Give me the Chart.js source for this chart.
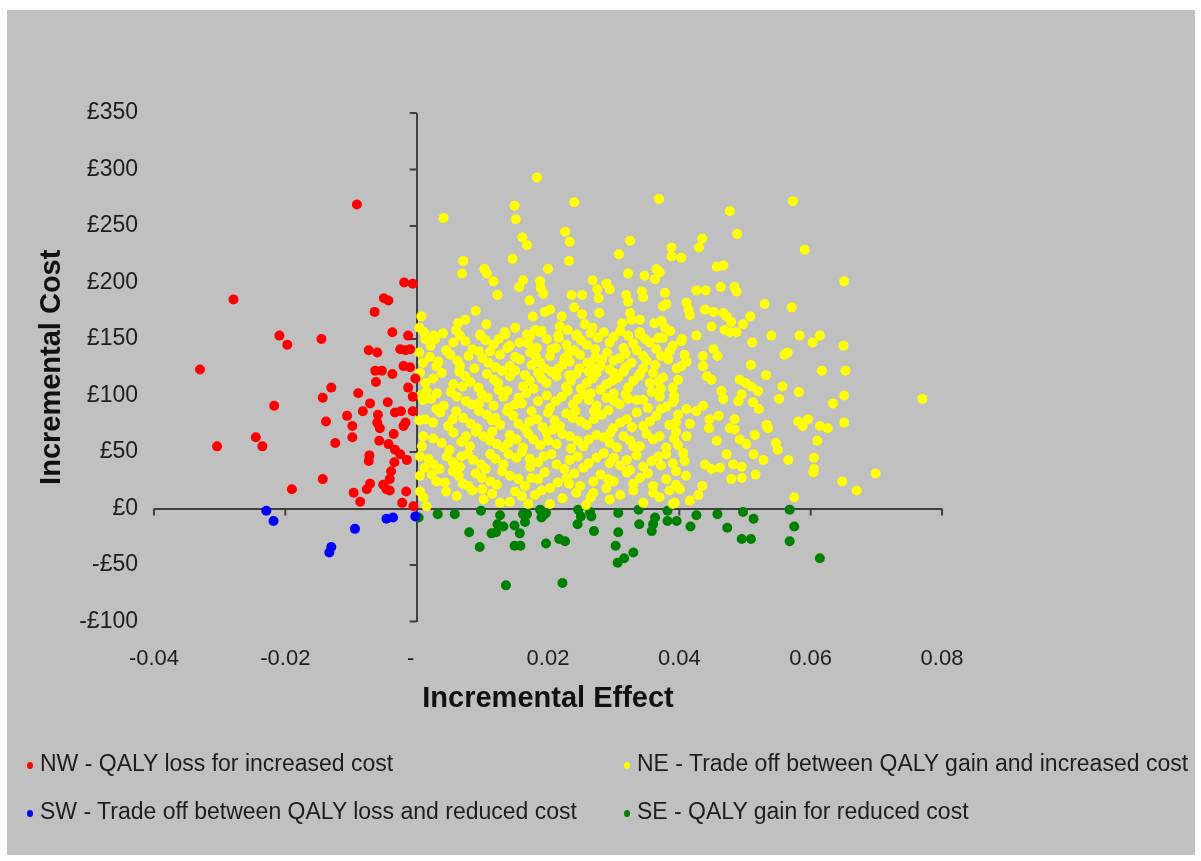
<!DOCTYPE html>
<html>
<head>
<meta charset="utf-8">
<script src="https://cdn.jsdelivr.net/npm/chart.js@4.4.1/dist/chart.umd.min.js"></script>
<style>
  html, body { margin: 0; padding: 0; background: #fff; }
  #frame { position: absolute; left: 7px; top: 10px; width: 1188px; height: 845px; background: #c0c0c0; }
  #wrap { position: absolute; left: 0; top: 0; width: 1201px; height: 861px; }
  #legend { position: absolute; left: 0; top: 0; font-family: "Liberation Sans", Arial, sans-serif; font-size: 23px; color: #1e1e1e; }
  .item { position: absolute; white-space: nowrap; line-height: 24px; }
  .dot { display: inline-block; width: 6px; height: 7px; border-radius: 50%; margin-right: 7px; vertical-align: 2px; }
</style>
</head>
<body>
<div id="frame"></div>
<div id="wrap"><canvas id="ceChart" width="1201" height="861"></canvas></div>
<div id="legend"></div>
<script>
// quadrant labels and colours
const seriesLabels = [
  'NW - QALY loss for increased cost',
  'NE - Trade off between QALY gain and increased cost',
  'SW - Trade off between QALY loss and reduced cost',
  'SE - QALY gain for reduced cost'
];
const seriesColors = ['#ff0000', '#ffff00', '#0000ff', '#008000'];

// axis ranges / ticks
const xMin = -0.04, xMax = 0.08, xStep = 0.02;
const yMin = -100, yMax = 350, yStep = 50;

// [incremental effect, incremental cost]
const nwPoints = [
  [-0.0091,269],[-0.0019,200],[-0.0006,199],[-0.0279,185],[-0.0050,186],[-0.0043,184],[-0.0064,174],
  [-0.0037,156],[-0.0013,153],[-0.0209,153],[-0.0197,145],[-0.0145,150],[-0.0073,140],[-0.0060,138],
  [-0.0025,141],[-0.0017,140],[-0.0010,141],[-0.0330,123],[-0.0020,126],[-0.0010,125],[-0.0063,122],
  [-0.0053,122],[-0.0037,119],[-0.0002,115],[-0.0062,112],[-0.0130,107],[-0.0013,107],[-0.0143,98],
  [-0.0089,102],[-0.0006,99],[-0.0217,91],[-0.0071,93],[-0.0044,94],[-0.0082,86],[-0.0106,82],
  [-0.0059,83],[-0.0033,85],[-0.0024,86],[-0.0006,86],[-0.0138,77],[-0.0060,76],[-0.0017,76],
  [-0.0098,73],[-0.0056,71],[-0.0020,73],[-0.0245,63],[-0.0098,63],[-0.0035,66],[-0.0304,55],
  [-0.0235,55],[-0.0124,58],[-0.0057,60],[-0.0043,57],[-0.0033,52],[-0.0025,48],[-0.0015,43],
  [-0.0072,47],[-0.0073,42],[-0.0034,41],[-0.0039,33],[-0.0041,26],[-0.0143,26],[-0.0190,17],
  [-0.0071,22],[-0.0076,17],[-0.0051,21],[-0.0046,17],[-0.0041,16],[-0.0096,14],[-0.0086,6],
  [-0.0016,15],[-0.0022,5],[-0.0005,2]
];

const nePoints = [
  // upper part
  [0.0183,293],[0.0041,257],[0.0149,268],[0.0151,256],[0.0240,271],[0.0369,274],[0.0226,245],[0.0233,236],
  [0.0161,240],[0.0168,233],[0.0325,237],[0.0308,225],[0.0388,231],[0.0388,223],[0.0071,219],[0.0069,208],
  [0.0146,221],[0.0232,219],[0.0103,212],[0.0107,208],[0.0200,212],[0.0322,208],[0.0365,212],[0.0370,209],
  [0.0363,203],[0.0347,206],[0.0117,201],[0.0162,202],[0.0156,196],[0.0188,201],[0.0189,195],[0.0193,190],
  [0.0268,202],[0.0289,199],[0.0294,194],[0.0275,194],[0.0277,186],[0.0236,189],[0.0252,189],[0.0319,189],
  [0.0322,183],[0.0343,192],[0.0345,187],[0.0378,191],[0.0123,189],[0.0172,184],[0.0007,170],[0.0090,175],
  [0.0063,164],[0.0074,167],[0.0106,163],[0.0177,170],[0.0195,174],[0.0203,176],[0.0221,170],[0.0218,161],
  [0.0240,178],[0.0252,172],[0.0278,173],[0.0256,163],[0.0268,160],[0.0313,164],[0.0325,173],[0.0327,167],
  [0.0340,167],[0.0362,164],[0.0373,166],[0.0378,160],[0.0386,157],[0.0375,179],[0.0380,181],[0.0011,156],
  [0.0026,153],[0.0066,153],[0.0097,154],[0.0134,156],[0.0168,154],[0.0180,158],[0.0188,156],[0.0216,153],
  [0.0244,154],[0.0340,156],[0.0368,151],
  // right part, upper
  [0.0573,272],[0.0477,263],[0.0488,243],[0.0435,239],[0.0430,231],[0.0591,229],[0.0403,222],[0.0457,214],
  [0.0467,215],[0.0651,201],[0.0426,193],[0.0440,193],[0.0463,196],[0.0484,196],[0.0487,192],[0.0530,181],
  [0.0571,178],[0.0411,182],[0.0414,176],[0.0416,171],[0.0439,176],[0.0452,174],[0.0467,173],[0.0472,170],
  [0.0508,170],[0.0479,165],[0.0497,163],[0.0449,161],[0.0469,158],[0.0477,156],[0.0487,156],[0.0404,150],
  [0.0426,153],[0.0540,153],[0.0583,153],[0.0614,153],
  // right part, lower
  [0.0403,148],[0.0511,147],[0.0603,147],[0.0650,144],[0.0452,141],[0.0458,135],[0.0560,136],[0.0565,138],
  [0.0408,136],[0.0436,135],[0.0509,127],[0.0617,122],[0.0653,122],[0.0532,118],[0.0492,114],[0.0501,111],
  [0.0510,108],[0.0442,117],[0.0449,114],[0.0436,126],[0.0403,126],[0.0411,130],[0.0557,108],[0.0582,103],
  [0.0651,100],[0.0770,97],[0.0464,104],[0.0467,97],[0.0520,104],[0.0495,101],[0.0490,95],[0.0552,97],
  [0.0634,93],[0.0512,94],[0.0521,88],[0.0392,96],[0.0411,88],[0.0426,86],[0.0436,91],[0.0446,79],
  [0.0445,71],[0.0484,79],[0.0477,71],[0.0484,70],[0.0460,82],[0.0416,75],[0.0533,74],[0.0535,71],
  [0.0581,77],[0.0588,73],[0.0596,79],[0.0614,73],[0.0626,71],[0.0651,76],[0.0610,60],[0.0395,68],
  [0.0411,64],[0.0457,60],[0.0492,61],[0.0502,57],[0.0515,65],[0.0547,58],[0.0550,52],[0.0406,49],
  [0.0408,42],[0.0472,48],[0.0482,39],[0.0495,37],[0.0513,48],[0.0528,43],[0.0566,43],[0.0605,45],
  [0.0439,39],[0.0449,35],[0.0462,36],[0.0410,29],[0.0479,26],[0.0495,27],[0.0516,30],[0.0604,32],
  [0.0605,35],[0.0648,24],[0.0699,31],[0.0670,16],[0.0435,20],[0.0401,17],[0.0429,12],[0.0416,7],
  [0.0575,10],[0.0393,5],
  // dense core
  [0.0013,150],[0.0028,150],[0.0021,144],[0.0056,147],[0.0074,148],[0.0097,153],[0.0117,145],[0.0135,154],
  [0.0142,144],[0.0157,147],[0.0173,153],[0.0183,142],[0.0198,150],[0.0216,151],[0.0228,145],[0.0243,153],
  [0.0259,145],[0.0276,151],[0.0294,147],[0.0315,142],[0.0322,153],[0.0340,154],[0.0355,147],[0.0375,151],
  [0.0390,144],
  [0.0010,129],[0.0033,130],[0.0051,136],[0.0066,126],[0.0079,135],[0.0109,129],[0.0127,136],[0.0142,126],
  [0.0157,132],[0.0173,138],[0.0188,129],[0.0203,135],[0.0216,124],[0.0233,130],[0.0249,136],[0.0266,126],
  [0.0282,132],[0.0294,123],[0.0309,133],[0.0327,129],[0.0345,135],[0.0363,127],[0.0383,132],[0.0396,124],
  [0.0005,120],[0.0013,111],[0.0038,120],[0.0056,110],[0.0074,117],[0.0094,107],[0.0107,119],[0.0124,111],
  [0.0142,117],[0.0162,108],[0.0185,120],[0.0198,111],[0.0213,117],[0.0228,107],[0.0243,119],[0.0259,111],
  [0.0274,120],[0.0289,110],[0.0307,116],[0.0322,107],[0.0340,119],[0.0355,111],[0.0375,116],[0.0390,107],
  [0.0010,96],[0.0031,102],[0.0041,91],[0.0061,99],[0.0084,92],[0.0099,101],[0.0117,91],[0.0132,99],
  [0.0150,92],[0.0167,102],[0.0185,95],[0.0203,89],[0.0221,99],[0.0238,92],[0.0254,101],[0.0274,91],
  [0.0289,98],[0.0309,92],[0.0335,96],[0.0352,89],[0.0370,99],[0.0390,94],
  [0.0013,79],[0.0036,85],[0.0048,73],[0.0071,80],[0.0092,71],[0.0107,83],[0.0127,74],[0.0147,82],
  [0.0165,71],[0.0183,79],[0.0200,85],[0.0218,73],[0.0238,80],[0.0259,74],[0.0282,83],[0.0299,71],
  [0.0320,79],[0.0345,73],[0.0365,82],[0.0385,74],
  [0.0010,64],[0.0038,58],[0.0056,67],[0.0081,55],[0.0102,64],[0.0122,57],[0.0142,65],[0.0162,54],
  [0.0178,61],[0.0198,67],[0.0213,57],[0.0233,64],[0.0254,55],[0.0274,65],[0.0294,58],[0.0315,64],
  [0.0340,55],[0.0360,61],[0.0380,54],
  [0.0005,46],[0.0026,39],[0.0046,46],[0.0066,37],[0.0086,43],[0.0112,48],[0.0132,39],[0.0152,45],
  [0.0173,37],[0.0193,46],[0.0213,39],[0.0233,43],[0.0254,36],[0.0274,45],[0.0294,40],[0.0320,43],
  [0.0345,37],[0.0368,46],[0.0390,40],
  [0.0005,29],[0.0023,30],[0.0043,23],[0.0064,29],[0.0079,20],[0.0099,27],[0.0122,21],[0.0142,29],
  [0.0165,20],[0.0185,26],[0.0203,18],[0.0228,27],[0.0249,20],[0.0269,24],[0.0289,18],[0.0340,27],
  [0.0360,20],[0.0380,26],
  [0.0061,11],[0.0102,8],[0.0127,5],[0.0142,6],[0.0160,11],[0.0180,12],[0.0203,4],[0.0243,14],
  [0.0269,14],[0.0294,8],[0.0345,5],[0.0390,4],
  [0.0040,155],[0.0085,141],[0.0125,150],[0.0170,146],[0.0205,141],[0.0250,149],[0.0285,156],[0.0330,146],
  [0.0365,141],[0.0300,152],[0.0190,157],[0.0112,139],
  [0.0020,134],[0.0062,131],[0.0095,139],[0.0120,125],[0.0150,134],[0.0195,124],[0.0225,133],[0.0260,129],
  [0.0290,138],[0.0318,125],[0.0350,131],[0.0385,139],[0.0240,140],[0.0175,127],
  [0.0025,115],[0.0065,121],[0.0082,112],[0.0118,114],[0.0150,122],[0.0172,113],[0.0205,121],[0.0235,113],
  [0.0268,115],[0.0300,120],[0.0330,113],[0.0360,120],[0.0398,114],[0.0250,106],
  [0.0022,97],[0.0052,103],[0.0075,95],[0.0108,98],[0.0138,104],[0.0160,93],[0.0198,100],[0.0230,104],
  [0.0262,96],[0.0300,102],[0.0322,97],[0.0358,103],[0.0380,90],[0.0140,89],
  [0.0025,76],[0.0060,86],[0.0082,75],[0.0115,78],[0.0138,86],[0.0172,77],[0.0192,72],[0.0228,84],
  [0.0250,77],[0.0270,86],[0.0310,76],[0.0335,85],[0.0355,77],[0.0398,83],
  [0.0025,62],[0.0068,59],[0.0090,68],[0.0112,60],[0.0132,54],[0.0152,61],[0.0188,56],[0.0222,66],
  [0.0245,60],[0.0285,63],[0.0305,54],[0.0325,60],[0.0350,66],[0.0392,62],
  [0.0018,44],[0.0055,41],[0.0078,48],[0.0098,39],[0.0120,44],[0.0160,50],[0.0185,41],[0.0205,48],
  [0.0245,46],[0.0285,49],[0.0310,38],[0.0335,47],[0.0358,42],[0.0380,48],
  [0.0030,24],[0.0055,33],[0.0090,31],[0.0112,24],[0.0130,33],[0.0155,26],[0.0195,32],[0.0215,23],
  [0.0240,31],[0.0280,30],[0.0300,24],[0.0320,32],[0.0352,31],[0.0395,21],
  [0.0045,15],[0.0085,16],[0.0115,13],[0.0170,4],[0.0190,16],[0.0222,9],[0.0258,3],[0.0310,12],
  [0.0330,16],[0.0370,10],[0.0015,2],
  [0.0060,158],[0.0150,160],[0.0230,158],[0.0265,155],[0.0310,157],[0.0348,150],[0.0105,149],
  [0.0045,140],[0.0100,133],[0.0138,142],[0.0182,134],[0.0212,142],[0.0232,138],[0.0272,141],[0.0300,131],
  [0.0335,140],[0.0372,135],[0.0272,134],[0.0318,137],
  [0.0030,126],[0.0088,124],[0.0130,122],[0.0165,118],[0.0222,127],[0.0248,124],[0.0280,126],[0.0298,113],
  [0.0315,121],[0.0345,124],[0.0368,112],[0.0190,115],[0.0232,118],[0.0262,121],[0.0338,117],
  [0.0015,104],[0.0070,108],[0.0095,93],[0.0125,105],[0.0155,98],[0.0178,106],[0.0212,95],[0.0245,97],
  [0.0280,105],[0.0318,101],[0.0345,96],[0.0372,106],[0.0392,100],[0.0228,108],[0.0265,102],[0.0302,95],
  [0.0030,88],[0.0055,79],[0.0095,86],[0.0120,80],[0.0155,75],[0.0175,86],[0.0210,78],[0.0242,86],
  [0.0270,79],[0.0292,87],[0.0328,72],[0.0372,88],[0.0395,76],[0.0208,70],
  [0.0050,52],[0.0075,64],[0.0115,68],[0.0140,58],[0.0170,66],[0.0200,60],[0.0235,53],[0.0262,61],
  [0.0295,67],[0.0330,55],[0.0370,64],[0.0398,56],
  [0.0035,35],[0.0068,46],[0.0105,35],[0.0140,48],[0.0172,44],[0.0225,35],[0.0262,40],[0.0300,45],
  [0.0325,34],[0.0372,38],[0.0395,33],
  [0.0010,10],[0.0070,22],[0.0100,17],[0.0150,15],[0.0175,27],[0.0232,22],[0.0265,10],[0.0292,26],
  [0.0330,22],[0.0360,14],[0.0385,16],
  [0.0004,138],[0.0006,100],[0.0004,78],[0.0008,55],[0.0005,15],[0.0004,160],[0.0012,36]
];

const swPoints = [
  [-0.0229,-2],[-0.0218,-11],[-0.0094,-18],[-0.0130,-34],[-0.0133,-39],[-0.0046,-9],[-0.0036,-8],[-0.0002,-7]
];

const sePoints = [
  [0.0003,-8],[0.0032,-5],[0.0058,-5],[0.0098,-2],[0.0127,-6],[0.0080,-21],[0.0096,-34],[0.0123,-14],
  [0.0132,-16],[0.0114,-22],[0.0121,-21],[0.0136,-68],[0.0149,-15],[0.0157,-22],[0.0149,-33],[0.0158,-33],
  [0.0162,-5],[0.0168,-5],[0.0165,-12],[0.0188,-1],[0.0193,-6],[0.0190,-8],[0.0197,-4],[0.0197,-31],
  [0.0217,-27],[0.0226,-29],[0.0222,-66],[0.0246,-1],[0.0250,-7],[0.0245,-14],[0.0264,-3],[0.0266,-7],
  [0.0270,-20],[0.0307,-4],[0.0307,-21],[0.0303,-33],[0.0306,-48],[0.0316,-44],[0.0330,-39],[0.0338,-1],
  [0.0339,-14],[0.0363,-8],[0.0360,-14],[0.0358,-20],[0.0382,-2],[0.0382,-11],[0.0396,-11],[0.0426,-6],
  [0.0417,-16],[0.0458,-5],[0.0473,-17],[0.0497,-3],[0.0513,-9],[0.0495,-27],[0.0509,-27],[0.0568,-1],
  [0.0575,-16],[0.0568,-29],[0.0614,-44]
];

const axisColor = '#404040';
const textColor = '#1e1e1e';
const fontFamily = '"Liberation Sans", Arial, sans-serif';

function toXY(list) {
  return list.map(p => ({ x: p[0], y: p[1] }));
}

function isZero(v) {
  return Math.abs(v) < 1e-9;
}

// tick marks sitting on the zero axes (Excel style crossing axes)
const zeroAxisTicks = {
  id: 'zeroAxisTicks',
  beforeDatasetsDraw(chart) {
    const { ctx } = chart;
    const x = chart.scales.x, y = chart.scales.y;
    const x0 = x.getPixelForValue(0);
    const y0 = y.getPixelForValue(0);
    ctx.save();
    ctx.strokeStyle = axisColor;
    ctx.lineWidth = 2;
    ctx.beginPath();
    y.ticks.forEach(t => {
      const py = y.getPixelForValue(t.value);
      ctx.moveTo(x0 - 7, py);
      ctx.lineTo(x0, py);
    });
    x.ticks.forEach(t => {
      const px = x.getPixelForValue(t.value);
      ctx.moveTo(px, y0);
      ctx.lineTo(px, y0 + 7);
    });
    ctx.stroke();
    ctx.restore();
  }
};

Chart.defaults.font.family = fontFamily;
Chart.defaults.color = textColor;

const datasets = [nwPoints, nePoints, swPoints, sePoints].map((pts, i) => ({
  label: seriesLabels[i],
  data: toXY(pts),
  backgroundColor: seriesColors[i],
  borderWidth: 0,
  pointRadius: 5,
  pointHoverRadius: 5
}));

const ctx = document.getElementById('ceChart').getContext('2d');
const ceChart = new Chart(ctx, {
  type: 'scatter',
  data: { datasets: datasets },
  options: {
    responsive: false,
    animation: false,
    events: [],
    layout: { padding: { left: 20, top: 113, right: 259, bottom: 139.5 } },
    plugins: {
      legend: { display: false },
      tooltip: { enabled: false }
    },
    scales: {
      x: {
        type: 'linear',
        min: xMin,
        max: xMax,
        afterFit: s => { s.height = 100; },
        border: { display: false },
        grid: {
          drawTicks: false,
          lineWidth: 2,
          color: c => (c.tick && isZero(c.tick.value)) ? axisColor : 'rgba(0,0,0,0)'
        },
        ticks: {
          stepSize: xStep,
          padding: 24,
          maxRotation: 0,
          font: { size: 22 },
          color: textColor,
          callback: v => isZero(v) ? '-  ' : Number(v).toFixed(2)
        },
        title: {
          display: true,
          text: 'Incremental Effect',
          font: { size: 29, weight: 'bold' },
          color: '#111',
          padding: { top: 0, bottom: 5.1 }
        }
      },
      y: {
        type: 'linear',
        min: yMin,
        max: yMax,
        afterFit: s => { s.width = 134; },
        border: { display: false },
        grid: {
          drawTicks: false,
          lineWidth: 2,
          color: c => (c.tick && isZero(c.tick.value)) ? axisColor : 'rgba(0,0,0,0)'
        },
        ticks: {
          stepSize: yStep,
          padding: 16,
          font: { size: 23 },
          color: textColor,
          callback: v => (v < 0 ? '-£' : '£') + Math.abs(v)
        },
        title: {
          display: true,
          text: 'Incremental Cost',
          font: { size: 29, weight: 'bold' },
          color: '#111',
          padding: { top: 14.6, bottom: 0 }
        }
      }
    }
  },
  plugins: [zeroAxisTicks]
});

// legend in two columns, built from the chart datasets
const legendEl = document.getElementById('legend');
const colLeft = [27, 624];
const rowTop = [751, 799];
ceChart.data.datasets.forEach((ds, i) => {
  const item = document.createElement('div');
  item.className = 'item';
  item.style.left = colLeft[i % 2] + 'px';
  item.style.top = rowTop[Math.floor(i / 2)] + 'px';
  const dot = document.createElement('span');
  dot.className = 'dot';
  dot.style.background = ds.backgroundColor;
  item.appendChild(dot);
  item.appendChild(document.createTextNode(ds.label));
  legendEl.appendChild(item);
});
</script>
</body>
</html>
